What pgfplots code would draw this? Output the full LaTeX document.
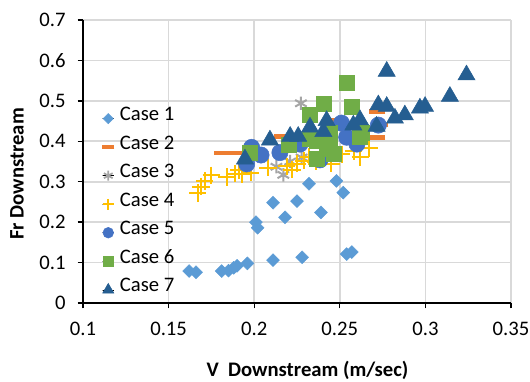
\documentclass[border=0pt]{standalone}
\usepackage{pgfplots}
\pgfplotsset{compat=1.18}
\usepackage{fontspec}
\setmainfont{Carlito}
\definecolor{cA}{HTML}{5B9BD5}
\definecolor{cB}{HTML}{ED7D31}
\definecolor{cC}{HTML}{A5A5A5}
\definecolor{cD}{HTML}{FFC000}
\definecolor{cE}{HTML}{4472C4}
\definecolor{cF}{HTML}{70AD47}
\definecolor{cG}{HTML}{255E91}
\definecolor{gridc}{HTML}{D9D9D9}
\begin{document}
\begin{tikzpicture}
\path[use as bounding box] (-62.25pt,-58.5pt) rectangle (335.25pt,227.25pt);
\begin{axis}[
  scale only axis, width=321pt, height=212.25pt,
  xmin=0.1, xmax=0.35, ymin=0, ymax=0.7,
  xtick={0.1,0.15,0.2,0.25,0.3,0.35},
  ytick={0,0.1,0.2,0.3,0.4,0.5,0.6,0.7},
  xticklabels={0.1,0.15,0.2,0.25,0.3,0.35},
  yticklabels={0,0.1,0.2,0.3,0.4,0.5,0.6,0.7},
  axis x line*=bottom, axis y line*=left,
  axis line style={black, line width=1pt, -},
  tick align=outside, major tick length=4pt,
  tick style={black, line width=1pt},
  grid=major, grid style={gridc, line width=1.3pt},
  ticklabel style={font=\fontsize{15.5}{18}\selectfont, text=black},
  yticklabel style={xshift=-5.5pt},
  xticklabel style={yshift=-7pt},
  xlabel={V\ \ Downstream (m/sec)}, ylabel={Fr Downstream},
  label style={font=\fontsize{15.5}{18}\selectfont\bfseries},
  xlabel style={at={(axis description cs:0.5245,-0.237)}, anchor=center},
  ylabel style={at={(axis description cs:-0.154,0.456)}, anchor=center, rotate=0},
  legend style={at={(axis description cs:0.045,0.702)}, anchor=north west,
    draw=none, fill=none, inner sep=0pt, outer sep=0pt,
    font=\fontsize{15.5}{18}\selectfont,
    nodes={inner sep=0pt, text height=12.3pt, text depth=9.1pt},
    column sep=4.2pt},
  legend cell align=left,
  legend image code/.code={\path (0cm,0cm) rectangle (0.3cm,0cm); \draw[#1] plot coordinates {(0.15cm,0cm)};},
  clip=false,
]
\addlegendimage{only marks, mark=square*, mark options={rotate=45, draw=cA, fill=cA}, mark size=2.7pt}
\addlegendentry{Case 1}
\addlegendimage{only marks, mark=-, mark options={draw=cB, line width=3pt}, mark size=4.5pt}
\addlegendentry{Case 2}
\addlegendimage{only marks, mark=asterisk, mark options={draw=cC, line width=1.3pt}, mark size=3.8pt}
\addlegendentry{Case 3}
\addlegendimage{only marks, mark=+, mark options={draw=cD, line width=1.3pt}, mark size=4pt}
\addlegendentry{Case 4}
\addlegendimage{only marks, mark=*, mark options={draw=cE, fill=cE}, mark size=4pt}
\addlegendentry{Case 5}
\addlegendimage{only marks, mark=square*, mark options={draw=cF, fill=cF}, mark size=3.6pt}
\addlegendentry{Case 6}
\addlegendimage{only marks, mark=triangle*, mark options={draw=cG, fill=cG}, mark size=4.8pt}
\addlegendentry{Case 7}
% Case 1
\addplot[forget plot, only marks, mark=square*, mark options={rotate=45, draw=cA, fill=cA}, mark size=3.4pt] coordinates {
(0.162,0.079) (0.166,0.076) (0.181,0.079) (0.185,0.080) (0.188,0.087) (0.190,0.092) (0.196,0.098)
(0.201,0.200) (0.202,0.186) (0.211,0.106) (0.211,0.248) (0.218,0.212) (0.225,0.252) (0.228,0.113)
(0.232,0.295) (0.239,0.224) (0.248,0.302) (0.252,0.273) (0.254,0.121) (0.257,0.126)};
% Case 2
\addplot[forget plot, only marks, mark=-, mark options={draw=cB, line width=3.5pt}, mark size=6pt] coordinates {
(0.181,0.371) (0.188,0.371) (0.216,0.412) (0.247,0.453) (0.272,0.474) (0.2735,0.44) (0.272,0.41)};
% Case 3
\addplot[forget plot, only marks, mark=asterisk, mark options={draw=cC, line width=1.5pt}, mark size=5pt] coordinates {
(0.213,0.337) (0.217,0.317) (0.221,0.35) (0.2277,0.36) (0.2273,0.494)};
% Case 4
\addplot[forget plot, only marks, mark=+, mark options={draw=cD, line width=1.5pt}, mark size=6.5pt] coordinates {
(0.167,0.272) (0.169,0.288) (0.171,0.302) (0.175,0.316) (0.184,0.312) (0.189,0.320) (0.191,0.328)
(0.193,0.318) (0.198,0.322) (0.208,0.335) (0.219,0.338) (0.222,0.330) (0.225,0.345) (0.229,0.352)
(0.232,0.362) (0.236,0.350) (0.244,0.371) (0.245,0.345) (0.251,0.368) (0.258,0.375) (0.267,0.383) (0.262,0.36)};
% Case 5
\addplot[forget plot, only marks, mark=*, mark options={draw=cE, fill=cE}, mark size=6.1pt] coordinates {
(0.1956,0.344) (0.1985,0.385) (0.204,0.366) (0.215,0.372) (0.2267,0.393) (0.2384,0.354) (0.243,0.40)
(0.251,0.445) (0.254,0.41) (0.26,0.393) (0.2725,0.44)};
% Case 6
\addplot[forget plot, only marks, mark=square*, mark options={draw=cF, fill=cF}, mark size=5.6pt] coordinates {
(0.1975,0.372) (0.22,0.391) (0.2326,0.465) (0.2326,0.405) (0.2365,0.356) (0.2365,0.40) (0.2404,0.492)
(0.2423,0.395) (0.2443,0.382) (0.2462,0.370) (0.2443,0.42) (0.254,0.544) (0.257,0.486) (0.2618,0.412) (0.263,0.42)};
% Case 7
\addplot[forget plot, only marks, mark=triangle*, mark options={draw=cG, fill=cG}, mark size=7.4pt] coordinates {
(0.1946,0.356) (0.2092,0.403) (0.221,0.412) (0.2257,0.412) (0.2326,0.435) (0.2404,0.424) (0.2423,0.451)
(0.2579,0.44) (0.2618,0.453) (0.2715,0.437) (0.2725,0.49) (0.2774,0.486) (0.2774,0.573) (0.2822,0.457)
(0.288,0.465) (0.2968,0.482) (0.2998,0.486) (0.3143,0.511) (0.324,0.564)};
\end{axis}
\end{tikzpicture}
\end{document}
